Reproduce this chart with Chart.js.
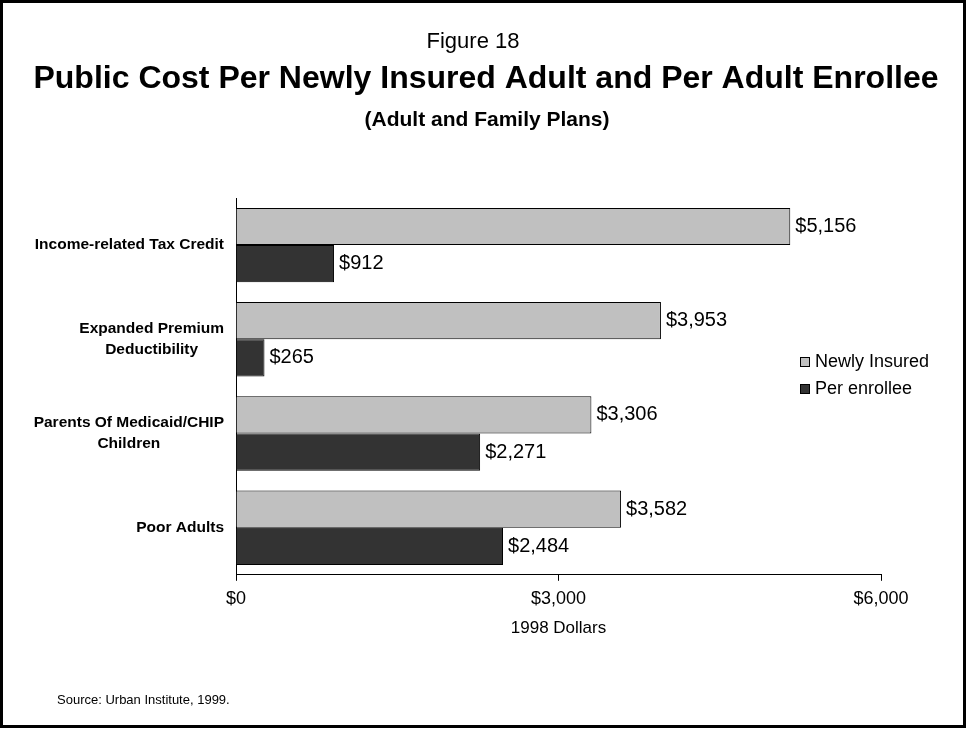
<!DOCTYPE html>
<html>
<head>
<meta charset="utf-8">
<script src="https://cdn.jsdelivr.net/npm/chart.js@4"></script>
<style>
  html, body { margin: 0; padding: 0; background: #fff; }
  canvas { display: block; }
</style>
</head>
<body>
<canvas id="chart" width="966" height="729"></canvas>
<script>
const categories = [
  ["Income-related Tax Credit"],
  ["Expanded Premium", "Deductibility"],
  ["Parents Of Medicaid/CHIP", "Children"],
  ["Poor Adults"],
];
const newlyInsured = [5156, 3953, 3306, 3582];
const perEnrollee = [912, 265, 2271, 2484];
const xTicks = [0, 3000, 6000];

const FONT = "'Liberation Sans', Arial, sans-serif";
Chart.defaults.font.family = FONT;
Chart.defaults.color = "#000";

const money = (v) => "$" + Number(v).toLocaleString("en-US");

// frame, titles, y labels, legend, source note
const decorations = {
  id: "decorations",
  afterDraw(chart) {
    const ctx = chart.ctx;
    const yScale = chart.scales.y;
    ctx.save();

    ctx.strokeStyle = "#000";
    ctx.lineWidth = 3;
    ctx.strokeRect(1.5, 1.5, 963, 725);

    ctx.fillStyle = "#000";
    ctx.textAlign = "center";
    ctx.textBaseline = "alphabetic";
    ctx.font = "22px " + FONT;
    ctx.fillText("Figure 18", 473, 48, 96);
    ctx.font = "bold 32px " + FONT;
    ctx.fillText("Public Cost Per Newly Insured Adult and Per Adult Enrollee", 486, 88, 907);
    ctx.font = "bold 21px " + FONT;
    ctx.fillText("(Adult and Family Plans)", 487, 126, 250);

    // category labels: block right-aligned, lines centred within it
    ctx.font = "bold 15.5px " + FONT;
    ctx.textBaseline = "middle";
    categories.forEach((lines, i) => {
      const cy = yScale.getPixelForValue(i);
      const widest = Math.max(...lines.map((l) => ctx.measureText(l).width));
      const cx = 224 - widest / 2;
      const lh = 21;
      lines.forEach((l, j) => {
        ctx.fillText(l, cx, cy + (j - (lines.length - 1) / 2) * lh);
      });
    });

    // legend
    ctx.textAlign = "left";
    ctx.font = "18px " + FONT;
    chart.data.datasets.forEach((ds, i) => {
      const y = 362 + i * 27;
      ctx.fillStyle = ds.backgroundColor;
      ctx.fillRect(800.5, y - 4.5, 9, 9);
      ctx.strokeStyle = "#000";
      ctx.lineWidth = 1;
      ctx.strokeRect(800.5, y - 4.5, 9, 9);
      ctx.fillStyle = "#000";
      ctx.fillText(ds.label, 815, y);
    });

    ctx.font = "13px " + FONT;
    ctx.fillText("Source: Urban Institute, 1999.", 57, 700);
    ctx.restore();
  },
};

// value labels at the end of each bar
const valueLabels = {
  id: "valueLabels",
  afterDatasetsDraw(chart) {
    const ctx = chart.ctx;
    ctx.save();
    ctx.font = "20px " + FONT;
    ctx.fillStyle = "#000";
    ctx.textAlign = "left";
    ctx.textBaseline = "middle";
    chart.data.datasets.forEach((ds, di) => {
      chart.getDatasetMeta(di).data.forEach((bar, i) => {
        ctx.fillText(money(ds.data[i]), bar.x + 5, bar.y);
      });
    });
    ctx.restore();
  },
};

new Chart(document.getElementById("chart"), {
  type: "bar",
  data: {
    labels: categories,
    datasets: [
      {
        label: "Newly Insured",
        data: newlyInsured,
        backgroundColor: "#C0C0C0",
        borderColor: "#000",
        borderWidth: 1,
      },
      {
        label: "Per enrollee",
        data: perEnrollee,
        backgroundColor: "#333333",
        borderColor: "#000",
        borderWidth: 1,
      },
    ],
  },
  options: {
    indexAxis: "y",
    responsive: false,
    animation: false,
    layout: {
      padding: { top: 198, left: 236, right: 85, bottom: 88.2 },
    },
    datasets: {
      bar: {
        categoryPercentage: 0.79,
        barPercentage: 1,
      },
    },
    scales: {
      x: {
        min: 0,
        max: 6000,
        afterBuildTicks(scale) {
          scale.ticks = xTicks.map((v) => ({ value: v }));
        },
        ticks: {
          padding: 7,
          maxRotation: 0,
          font: { size: 18 },
          callback: (v) => money(v),
        },
        grid: {
          display: true,
          drawOnChartArea: false,
          drawTicks: true,
          tickLength: 6,
          color: "#000",
        },
        border: { display: true, color: "#000", width: 1 },
        title: {
          display: true,
          text: "1998 Dollars",
          font: { size: 17 },
          padding: { top: 2, bottom: 2 },
        },
      },
      y: {
        grid: { display: false, drawTicks: false },
        ticks: { display: false },
        border: { display: true, color: "#000", width: 1 },
      },
    },
    plugins: {
      legend: { display: false },
      tooltip: { enabled: false },
      title: { display: false },
    },
  },
  plugins: [valueLabels, decorations],
});
</script>
</body>
</html>
